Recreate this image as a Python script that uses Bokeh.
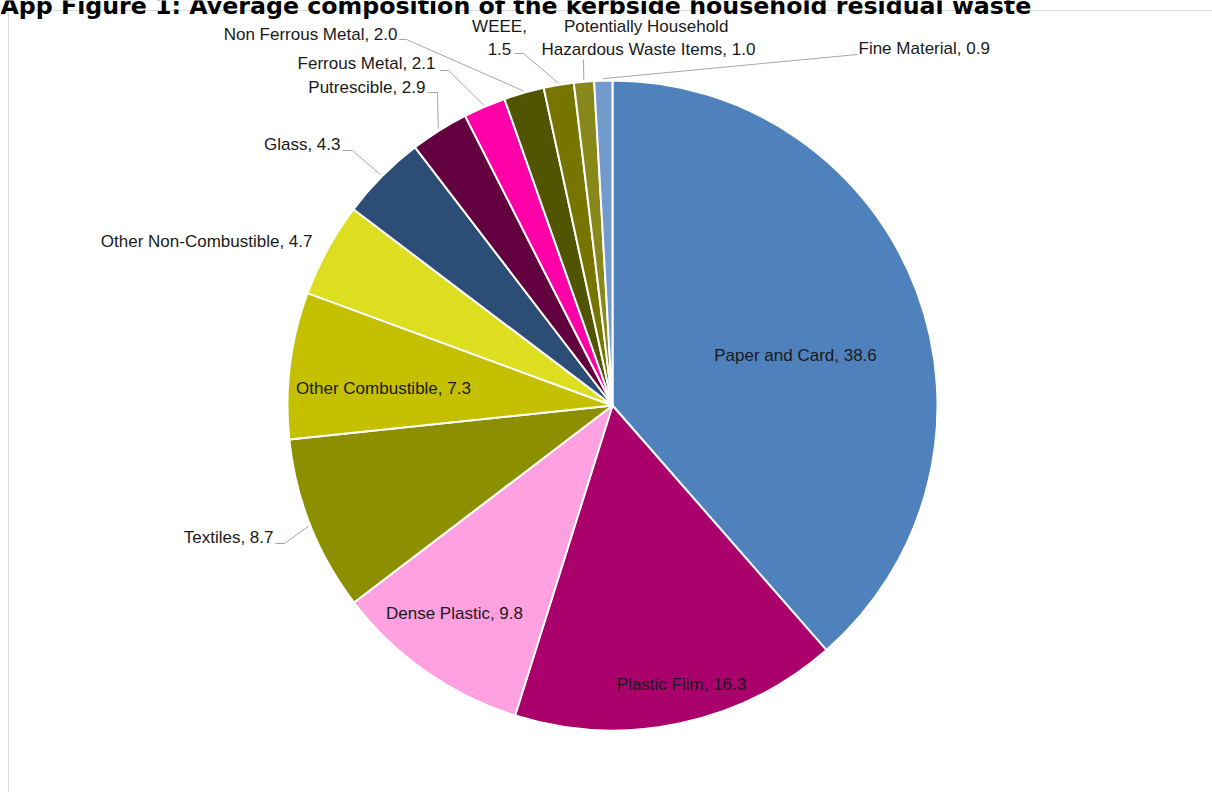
import numpy as np
from bokeh.plotting import figure
from bokeh.models import Range1d, ColumnDataSource
from bokeh.core.properties import value
from bokeh.embed import file_html
from bokeh.resources import INLINE

# ---- data ----
categories = ["Paper and Card", "Plastic Film", "Dense Plastic", "Textiles",
              "Other Combustible", "Other Non-Combustible", "Glass", "Putrescible",
              "Ferrous Metal", "Non Ferrous Metal", "WEEE",
              "Potentially Household Hazardous Waste Items", "Fine Material"]
values = [38.6, 16.3, 9.8, 8.7, 7.3, 4.7, 4.3, 2.9, 2.1, 2.0, 1.5, 1.0, 0.9]
colors = ["#4F81BD", "#AA006B", "#FFA0E0", "#8B8F00", "#C4C000", "#DEDE20",
          "#2C4D75", "#620040", "#FF00A8", "#515400", "#767500", "#88871A", "#729ACC"]
title = "App Figure 1: Average composition of the kerbside household residual waste"

W, H = 1212, 792
def sy(y):
    return H - y

CX, CY, R = 612, 405, 325

vals = np.array(values)
total = vals.sum()
cum_end = np.cumsum(vals)
cum_start = cum_end - vals
start_ang = np.pi / 2 - 2 * np.pi * cum_start / total
end_ang = np.pi / 2 - 2 * np.pi * cum_end / total
mid_ang = (start_ang + end_ang) / 2

p = figure(width=W, height=H, x_range=Range1d(0, W), y_range=Range1d(0, H),
           output_backend="svg", toolbar_location=None, min_border=0)
p.axis.visible = False
p.grid.visible = False
p.outline_line_color = None
p.background_fill_color = "white"
p.border_fill_color = "white"

# chart frame
p.segment(x0=[8, 8], y0=[sy(10), sy(10)], x1=[8, W + 5], y1=[sy(H + 5), sy(10)],
          line_color="#D9D9D9", line_width=1)

src = ColumnDataSource(dict(start=start_ang, end=end_ang, color=colors, cat=categories, val=values))
p.wedge(x=CX, y=sy(CY), radius=R, start_angle="start", end_angle="end", direction="clock",
        fill_color="color", line_color="white", line_width=2, source=src)

labels = {}
for i, (c, v) in enumerate(zip(categories, values)):
    labels[i] = f"{c}, {v:.1f}"
labels[10] = f"{categories[10]},\n{values[10]:.1f}"
labels[11] = f"Potentially  Household\nHazardous Waste Items, {values[11]:.1f}"

FONT = value("Liberation Sans")
FS = "17px"

inside = [(0, 795, 355), (1, 681, 684), (2, 454, 613), (4, 383, 388)]
p.text(x=[a[1] for a in inside], y=[sy(a[2]) for a in inside], text=[labels[a[0]] for a in inside],
       text_align="center", text_baseline="middle", text_font=FONT,
       text_font_size=FS, text_color="#1A1A1A")

outside = [(3, 273, 537, "right"), (5, 312, 241, "right"), (6, 340, 144, "right"),
           (7, 425, 87, "right"), (8, 435, 63, "right"), (9, 397, 34, "right"),
           (10, 499, 37.5, "center"), (11, 648, 37.5, "center"), (12, 858, 48, "left")]
for idx, x, y, al in outside:
    p.text(x=[x], y=[sy(y)], text=[labels[idx]], text_align=al, text_baseline="middle",
           text_font=FONT, text_font_size=FS, text_color="#1A1A1A",
           text_line_height=1.25)

leaders = [(3, [(275, 543), (284, 543)]), (6, [(342, 150), (352, 150)]),
           (7, [(427, 92), (437, 92)]), (8, [(440, 70), (448, 70)]),
           (9, [(399, 39), (406, 39)]), (10, [(514, 53), (523, 53)]),
           (11, [(583, 59)]), (12, [(857, 54)])]
xs, ys = [], []
for idx, pts in leaders:
    ex = CX + (R + 2) * np.cos(mid_ang[idx])
    ey = CY - (R + 2) * np.sin(mid_ang[idx])
    xs.append([q[0] for q in pts] + [ex])
    ys.append([sy(q[1]) for q in pts] + [sy(ey)])
p.multi_line(xs=xs, ys=ys, line_color="#A6A6A6", line_width=1)

# title (clipped at top as in the reference)
p.text(x=[0], y=[sy(5)], text=[title], text_align="left", text_baseline="alphabetic",
       text_font=value("DejaVu Sans"), text_font_style="bold", text_font_size="23.7px",
       text_color="#000000")

open("out.html", "w").write(file_html(p, INLINE))
